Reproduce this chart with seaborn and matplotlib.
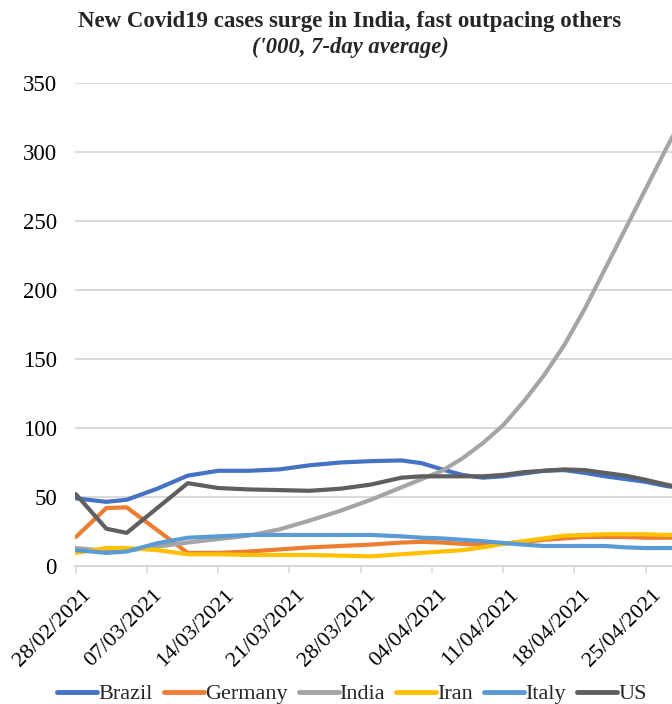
import numpy as np
import pandas as pd
import matplotlib
matplotlib.use("Agg")
import matplotlib.pyplot as plt
import matplotlib.dates as mdates
import seaborn as sns

# ---- data ('000 new cases, 7-day average) ----
start_date = "2021-02-28"
day_offsets = [0, 3, 5, 8, 11, 14, 17, 20, 23, 26, 29, 32, 34, 36, 38, 40,
               42, 44, 46, 48, 50, 52, 54, 56, 58, 60]
countries = ["Brazil", "Germany", "India", "Iran", "Italy", "US"]
brazil = [49, 46.5, 48, 56, 65.5, 69, 69, 70, 73, 75, 76, 76.5, 74.5, 70, 66, 64,
          65, 67, 69, 69.5, 67.5, 65, 63, 61, 58, 56]
germany = [21, 42, 42.5, 26, 9.5, 9.5, 10.5, 12, 13.5, 14.5, 15.5, 17, 17.5, 17, 16, 15.5,
           16, 17.5, 19, 20, 21, 21, 21, 20.5, 20.5, 20.5]
india = [13, 11, 11, 14, 17, 19.5, 22, 26.5, 33, 40, 48, 57, 63, 69, 78, 89,
         102, 119, 138, 160, 186, 215, 244, 273, 302, 330]
iran = [9.5, 13, 13, 11.5, 8.5, 8.5, 8, 8, 8, 7.5, 7, 8.5, 9.5, 10.5, 11.5, 13.5,
        16, 18, 20, 22, 22.5, 23, 23, 23, 22.5, 22.5]
italy = [11.5, 9.5, 10.5, 16.5, 20.5, 21.5, 22.5, 22.5, 22.5, 22.5, 22.5, 21.5, 20.5, 20, 19, 18,
         16.7, 15.5, 14.5, 14.5, 14.5, 14.5, 13.5, 13, 13, 13]
us = [52, 27, 24, 42, 60, 56.5, 55.5, 55, 54.5, 56, 59, 64, 65, 65, 65, 65,
      66, 68, 69, 70, 69.5, 67.5, 65.5, 62.5, 59, 56]
colors = ["#4472C4", "#ED7D31", "#A5A5A5", "#FFC000", "#5B9BD5", "#5F5F5F"]
title = "New Covid19 cases surge in India, fast outpacing others"
subtitle = "('000, 7-day average)"
y_ticks = [0, 50, 100, 150, 200, 250, 300, 350]

# ---- build long table ----
dates = pd.to_datetime(start_date) + pd.to_timedelta(day_offsets, unit="D")
series = [brazil, germany, india, iran, italy, us]
df = pd.concat([pd.DataFrame({"date": dates, "value": v, "country": c})
                for c, v in zip(countries, series)], ignore_index=True)

sns.set_theme(style="white")
plt.rcParams["font.family"] = ["Liberation Serif", "DejaVu Serif"]

fig = plt.figure(figsize=(6.72, 7.04), dpi=100)
ax = fig.add_axes([75 / 672, 1 - 566 / 704, 1 - 75 / 672, (566 - 83) / 704])

sns.lineplot(data=df, x="date", y="value", hue="country", hue_order=countries,
             palette=colors, linewidth=3.0, ax=ax, legend=False,
             solid_capstyle="round", solid_joinstyle="round")

d0 = pd.to_datetime(start_date)
ax.set_xlim(d0 - pd.Timedelta(hours=2), d0 + pd.Timedelta(days=58.6))
ax.set_ylim(0, 350)
ax.set_yticks(y_ticks)
ax.set_yticklabels([str(t) for t in y_ticks])
xt = [d0 + pd.Timedelta(days=7 * i) for i in range(9)]
ax.set_xticks(xt)
ax.set_xticklabels([t.strftime("%d/%m/%Y") for t in xt], rotation=45,
                   ha="right", va="top", rotation_mode="anchor")
ax.set_xlabel("")
ax.set_ylabel("")

ax.yaxis.grid(True, color="#D9D9D9", linewidth=1.4)
ax.xaxis.grid(False)
ax.set_axisbelow(True)
for s in ["left", "right", "top"]:
    ax.spines[s].set_visible(False)
ax.spines["bottom"].set_color("#D9D9D9")
ax.spines["bottom"].set_linewidth(1.4)
ax.spines["bottom"].set_zorder(0.5)
ax.tick_params(axis="y", length=0, labelsize=16.5, pad=13, colors="black")
ax.tick_params(axis="x", length=5, width=1.2, color="#D9D9D9", labelsize=16,
               pad=9, labelcolor="black", direction="out", bottom=True)
for lbl in ax.get_xticklabels():
    lbl.set_transform(lbl.get_transform() +
                      matplotlib.transforms.ScaledTranslation(6 / 100, 0, fig.dpi_scale_trans))

fig.text(350 / 672, 1 - 27 / 704, title, ha="center", va="baseline",
         fontsize=16.5, fontweight="bold")
fig.text(350 / 672, 1 - 53 / 704, subtitle, ha="center", va="baseline",
         fontsize=16.3, fontweight="bold", fontstyle="italic")

handles = ax.get_lines()[:len(countries)]
leg = fig.legend(handles, countries, loc="center", bbox_to_anchor=(352 / 672, 1 - 694 / 704),
                 ncol=6, frameon=False, fontsize=16, handlelength=1.8,
                 handletextpad=0.05, columnspacing=0.5)
for h in leg.legend_handles:
    h.set_linewidth(3.5)

fig.savefig("out.png", dpi=100)
